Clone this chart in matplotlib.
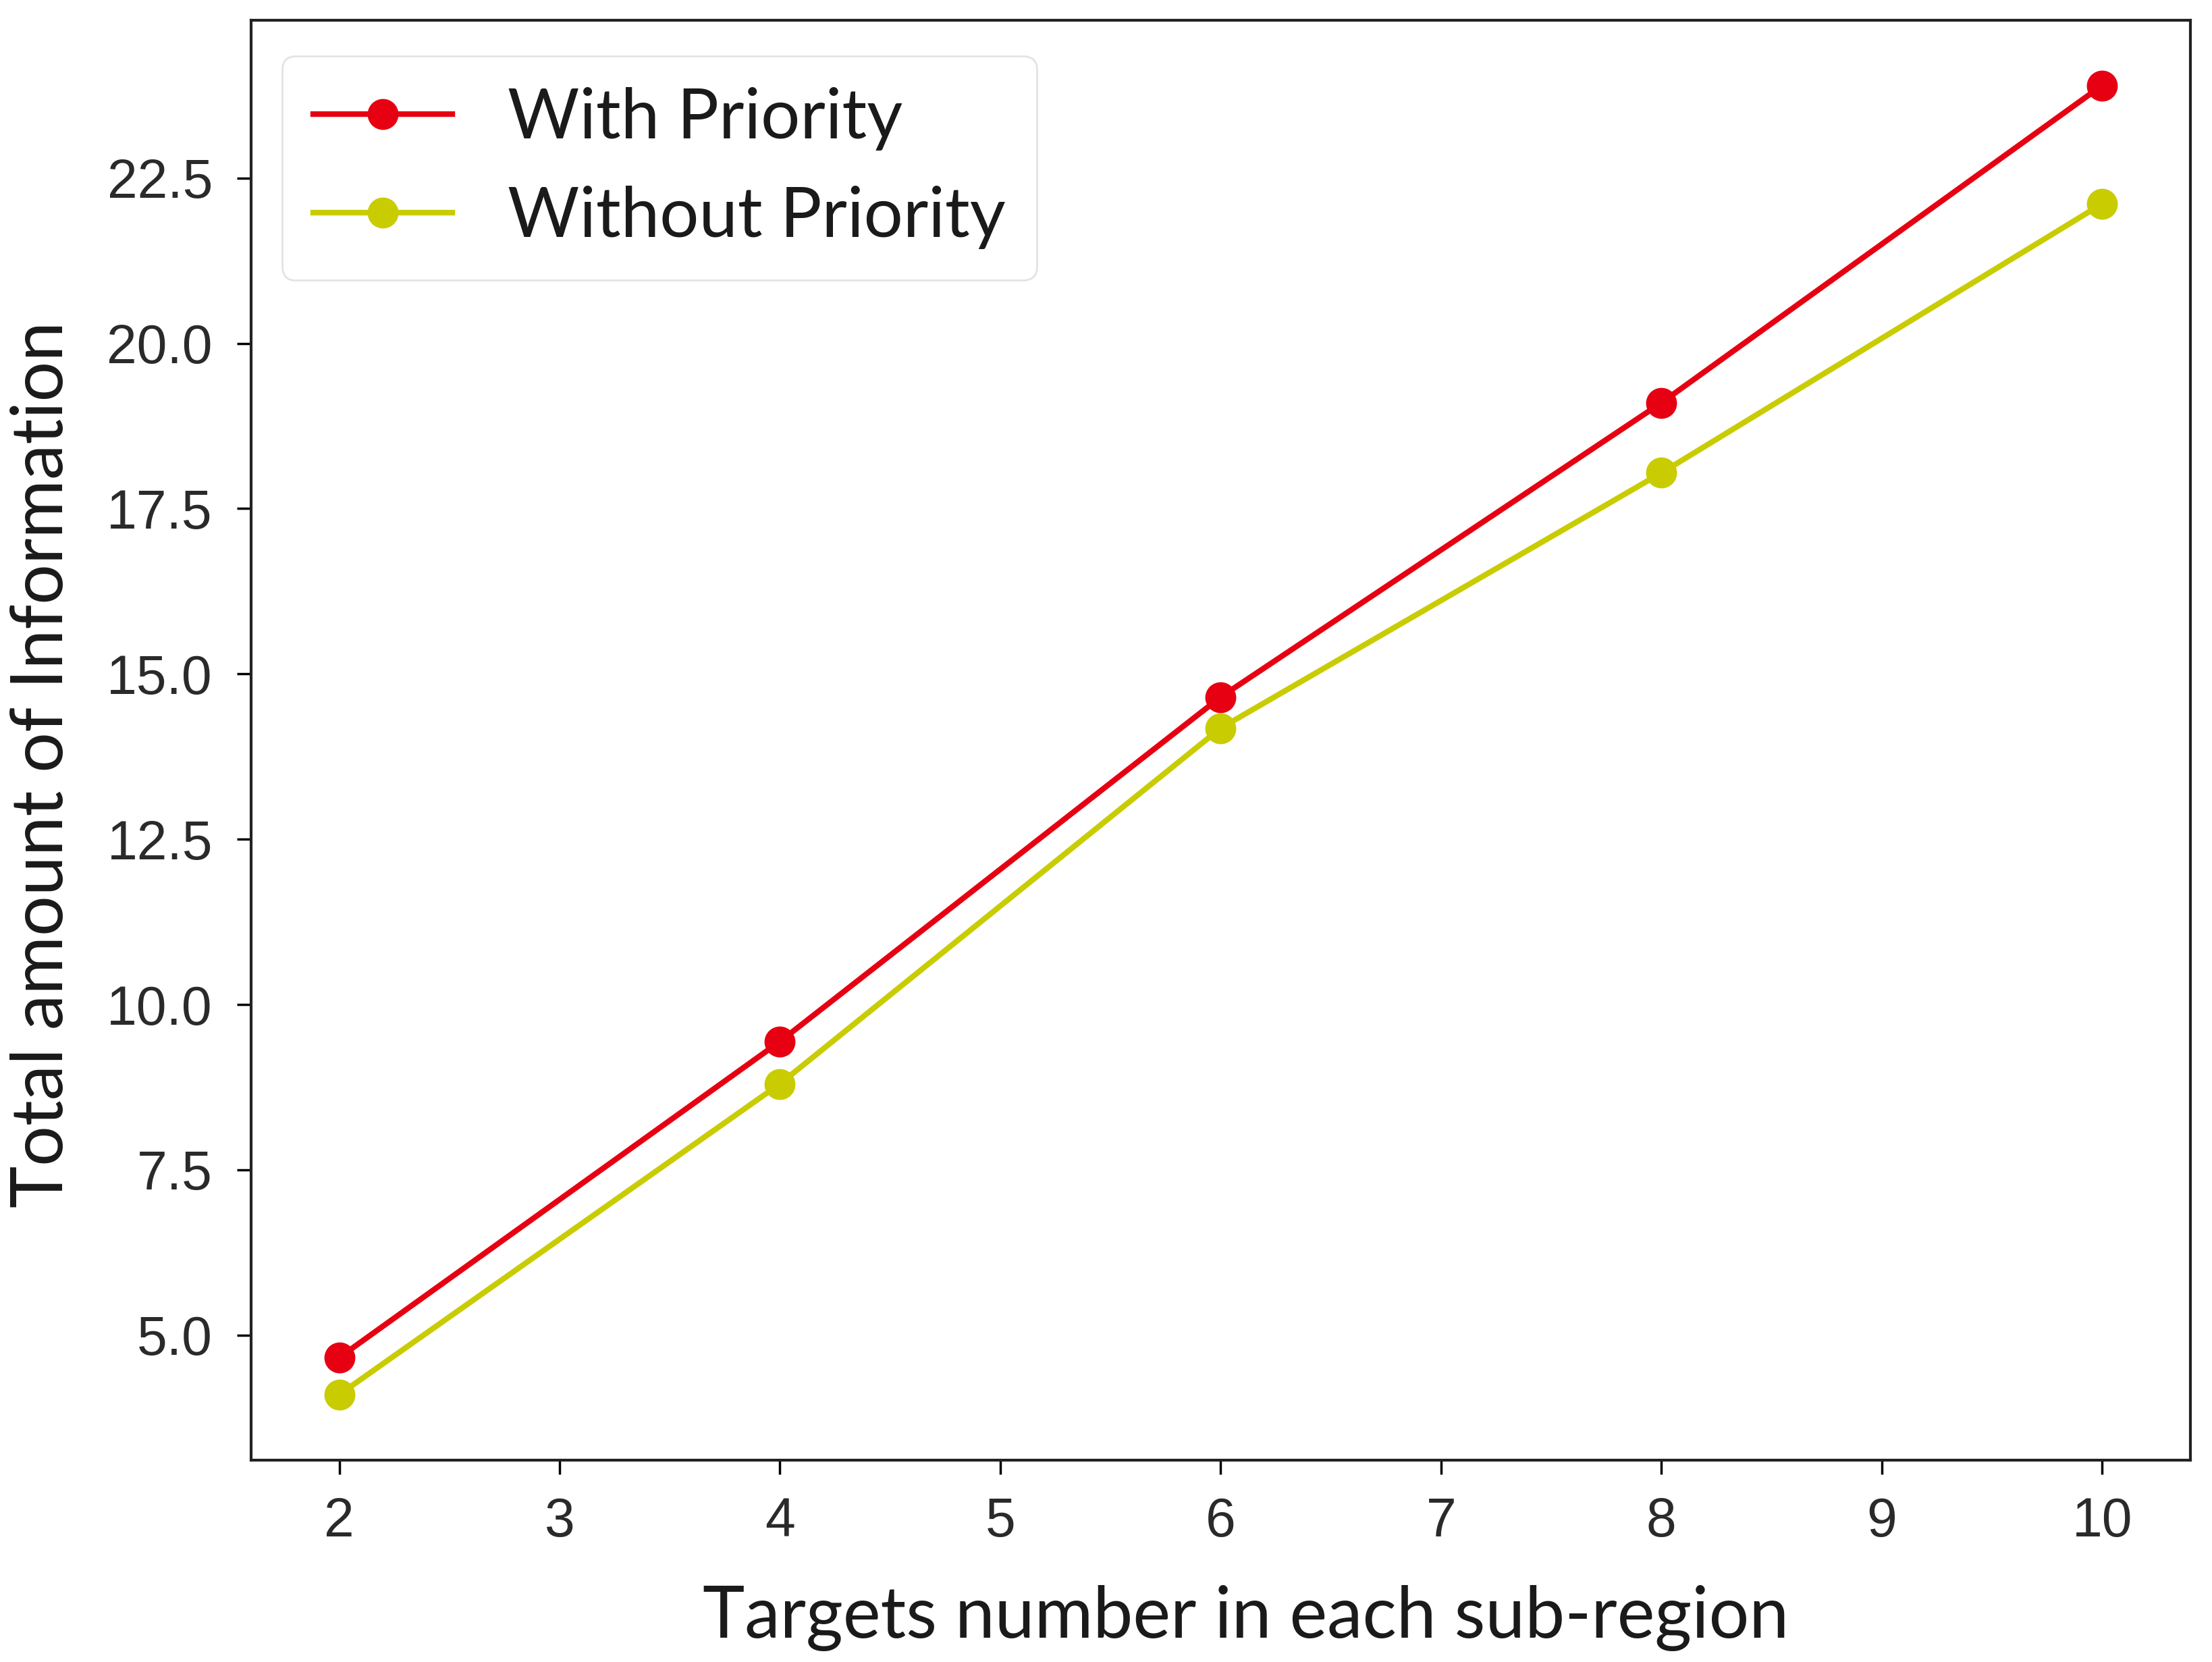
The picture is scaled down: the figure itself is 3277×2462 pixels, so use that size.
import matplotlib
matplotlib.use('Agg')
import matplotlib.pyplot as plt
from matplotlib import font_manager

# data
targets = [2, 4, 6, 8, 10]
with_priority = [4.66, 9.44, 14.65, 19.1, 23.9]
without_priority = [4.1, 8.8, 14.18, 18.04, 22.11]

x_ticks = [2, 3, 4, 5, 6, 7, 8, 9, 10]
y_ticks = [5.0, 7.5, 10.0, 12.5, 15.0, 17.5, 20.0, 22.5]

names = set(f.name for f in font_manager.fontManager.ttflist)
tick_font = 'Liberation Sans Narrow' if 'Liberation Sans Narrow' in names else 'Liberation Sans'
label_font = 'Lato'

fig = plt.figure(figsize=(32.77, 24.62), dpi=100)
ax = fig.add_axes([0.1135, 0.1215, 0.8767, 0.8665])

ax.plot(targets, with_priority, color='#e60012', marker='o', linewidth=6, markersize=32, label='With Priority')
ax.plot(targets, without_priority, color='#c8cc00', marker='o', linewidth=6, markersize=32, label='Without Priority')

ax.set_xticks(x_ticks)
ax.set_yticks(y_ticks)
ax.set_yticklabels(['%.1f' % v for v in y_ticks])
for lab in ax.get_xticklabels() + ax.get_yticklabels():
    lab.set_fontfamily(tick_font)
    lab.set_fontsize(58)
    lab.set_color('#2a2a2a')
ax.tick_params(axis='x', direction='out', width=2.5, length=15, pad=24)
ax.tick_params(axis='y', direction='out', width=2.5, length=15, pad=26)

for s in ax.spines.values():
    s.set_linewidth(3)
    s.set_color('#222222')

ax.set_xlabel('Targets number in each sub-region', fontfamily=label_font, fontsize=76, color='#1a1a1a')
ax.set_ylabel('Total amount of Information', fontfamily=label_font, fontsize=76, color='#1a1a1a')
ax.xaxis.set_label_coords(0.513, -0.087)
ax.yaxis.set_label_coords(-0.091, 0.483)

leg = ax.legend(loc='upper left', prop={'family': label_font, 'size': 74}, frameon=True,
                borderpad=0.45, handlelength=2.0, handletextpad=0.8, labelspacing=0.5,
                borderaxespad=0, bbox_to_anchor=(0.016, 0.975))
leg.get_frame().set_linewidth(2)
leg.get_frame().set_edgecolor('#dddddd')
for t in leg.get_texts():
    t.set_color('#1a1a1a')

fig.savefig('out.png', dpi=100)
